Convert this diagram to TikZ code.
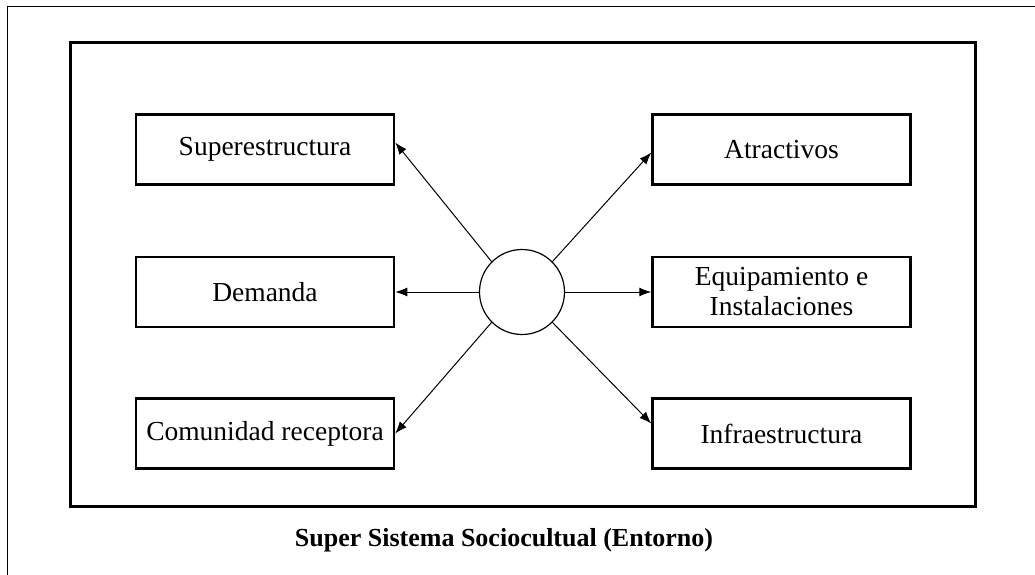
\documentclass[tikz,border=0pt]{standalone}
\usepackage{fontspec}
\setmainfont{Liberation Serif}
\usetikzlibrary{arrows.meta}

\begin{document}
\begin{tikzpicture}[x=1pt,y=-1pt]

      \useasboundingbox (0,0) rectangle (1035,575);
      \clip (0,0) rectangle (1035,575);

      \draw[line width=1pt] (7,600) -- (7,7) -- (1060,7);
      \draw[line width=3pt] (70,43) rectangle (975,506);

      \begin{scope}[every node/.style={draw, line width=2.5pt, minimum width=258pt, minimum height=70pt, inner sep=0pt, align=center, font=\fontsize{27.5}{30}\selectfont}]
        \node (sup) at (265,149.5) {Superestructura};
        \node (dem) at (265,292) {Demanda};
        \node (com) at (265,433.5) {Comunidad receptora};
        \node (atr) at (781.5,149.5) {Atractivos};
        \node (equ) at (781.5,292) {Equipamiento e\\Instalaciones};
        \node (inf) at (781.5,433.5) {Infraestructura};
      \end{scope}

      \node[circle, draw, line width=1.2pt, minimum size=85pt, inner sep=0pt] (c) at (522,292) {};

      \begin{scope}[every edge/.style={draw, line width=1pt, -{Latex[length=12pt,width=9pt]}}]
        \path (c.135) edge ([yshift=7pt]sup.east);
        \path (c.west) edge (dem.east);
        \path (c.225) edge (com.east);
        \path (c.45)  edge ([yshift=-3pt]atr.west);
        \path (c.east) edge (equ.west);
        \path (c.315) edge ([yshift=10pt]inf.west);
      \end{scope}

      \node[font=\bfseries\fontsize{26}{30}\selectfont] (ent) at (504,540) {Super Sistema Sociocultual (Entorno)};

    \end{tikzpicture}
\end{document}
